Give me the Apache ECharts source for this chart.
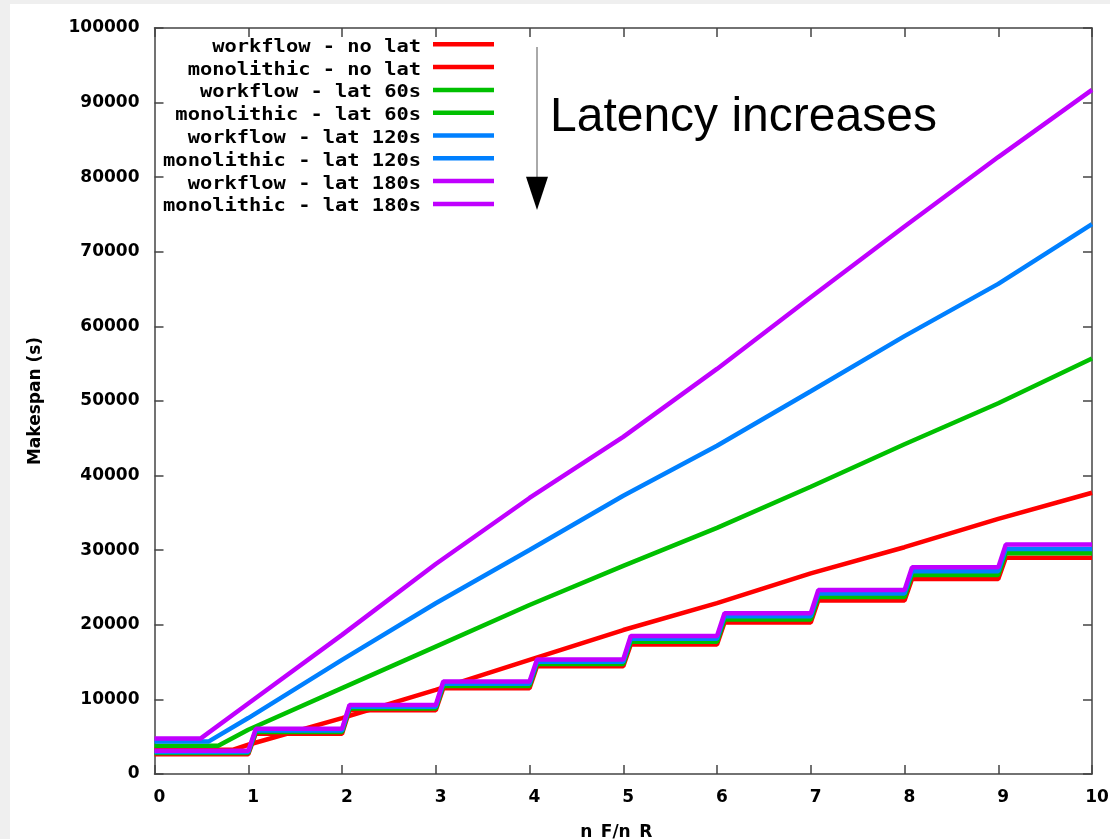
<!DOCTYPE html>
<html>
<head>
<meta charset="utf-8" />
<title>Makespan vs n_F/n_R</title>
<script src="https://cdn.jsdelivr.net/npm/echarts@6/dist/echarts.min.js"></script>
<style>
  body { margin: 0; background: #efefef; }
  #chart { position: absolute; left: 10px; top: 4px; width: 1100px; height: 835px; background: #fff; }
</style>
</head>
<body>
<div id="chart"></div>
<script type="text/javascript">
// ---- data ----
var seriesNames = [
  'workflow - no lat', 'monolithic - no lat',
  'workflow - lat 60s', 'monolithic - lat 60s',
  'workflow - lat 120s', 'monolithic - lat 120s',
  'workflow - lat 180s', 'monolithic - lat 180s'
];
var latencyColors = ['#ff0000', '#00c000', '#0080ff', '#c000ff'];

// workflow: flat start, knee where it starts rising, then values at n_F/n_R = 1..10
var nfnr = [1, 2, 3, 4, 5, 6, 7, 8, 9, 10];
var wfFlat = [3250, 3790, 4370, 4750];
var wfKnee = [0.84, 0.68, 0.58, 0.49];
var wfNoLat = [3920, 7500, 11280, 15300, 19300, 22900, 26900, 30400, 34200, 37700];
var wfLat60 = [5930, 11510, 17080, 22660, 27900, 33000, 38500, 44200, 49700, 55700];
var wfLat120 = [7500, 15300, 22890, 30030, 37300, 44000, 51300, 58700, 65700, 73700];
var wfLat180 = [9450, 18650, 28150, 37000, 45200, 54300, 63900, 73400, 82700, 91700];

// monolithic: one level per interval [k, k+1), k = 0..9
var stepStart = [0, 1, 2, 3, 4, 5, 6, 7, 8, 9];
var rampWidth = 0.08;
var moNoLat = [2650, 5400, 8550, 11500, 14450, 17350, 20300, 23250, 26150, 29000];
var moLat60 = [2800, 5620, 8780, 11800, 14750, 17730, 20720, 23720, 26670, 29580];
var moLat120 = [2950, 5830, 9020, 12100, 15050, 18120, 21130, 24180, 27180, 30170];
var moLat180 = [3100, 6050, 9250, 12400, 15350, 18500, 21550, 24650, 27700, 30750];

var wfValues = [wfNoLat, wfLat60, wfLat120, wfLat180];
var moValues = [moNoLat, moLat60, moLat120, moLat180];

// ---- build series ----
function workflowData(i) {
  var d = [[0, wfFlat[i]], [wfKnee[i], wfFlat[i]]];
  nfnr.forEach(function (x, j) { d.push([x, wfValues[i][j]]); });
  return d;
}
function monolithicData(i) {
  var d = [];
  stepStart.forEach(function (k, j) {
    var v = moValues[i][j];
    d.push([k === 0 ? 0 : k + rampWidth, v]);
    d.push([k + 1, v]);
  });
  return d;
}

var series = [];
for (var i = 0; i < 4; i++) {
  [workflowData(i), monolithicData(i)].forEach(function (data, t) {
    series.push({
      name: seriesNames[i * 2 + t],
      type: 'line',
      data: data,
      showSymbol: false,
      animation: false,
      color: latencyColors[i],
      lineStyle: { width: 4.5, color: latencyColors[i] }
    });
  });
}

// custom key: text right-aligned, sample line to its right
var legendGraphics = [];
seriesNames.forEach(function (name, i) {
  var y = 40.3 + i * 22.8;
  legendGraphics.push({
    type: 'text', x: 411, y: y + 3, scaleX: 1.2,
    style: { x: 0, y: 0, text: name, align: 'right', verticalAlign: 'middle',
             font: 'bold 17px "DejaVu Sans Mono"', fill: '#000' }
  });
  legendGraphics.push({
    type: 'line',
    shape: { x1: 423, y1: y, x2: 484, y2: y },
    style: { stroke: latencyColors[Math.floor(i / 2)], lineWidth: 4.5 }
  });
});

var axisFont = { fontFamily: 'DejaVu Sans', fontWeight: 'bold', fontSize: 17, color: '#000' };
var frameLine = { show: true, onZero: false, lineStyle: { color: '#444', width: 1.5 } };
var frameTick = { show: true, inside: true, length: 9, lineStyle: { color: '#444', width: 1.5 } };
var plain = function (v) { return String(v); };

var myChart = echarts.init(document.getElementById('chart'));
var option = {
  animation: false,
  grid: { left: 144.5, right: 18, top: 24, bottom: 65, containLabel: false, outerBoundsMode: 'none' },
  xAxis: [
    {
      type: 'value', min: 0, max: 10, interval: 1, position: 'bottom',
      name: 'n_F/n_R', nameLocation: 'middle', nameGap: 50,
      nameTextStyle: Object.assign({ padding: [0, 14, 0, 0] }, axisFont),
      axisLine: frameLine, axisTick: frameTick, splitLine: { show: false },
      axisLabel: Object.assign({ margin: 15, padding: [0, 0, 0, 10], formatter: plain }, axisFont)
    },
    {
      type: 'value', min: 0, max: 10, interval: 1, position: 'top',
      axisLine: frameLine, axisTick: frameTick, splitLine: { show: false },
      axisLabel: { show: false }
    }
  ],
  yAxis: [
    {
      type: 'value', min: 0, max: 100000, interval: 10000, position: 'left',
      name: 'Makespan (s)', nameLocation: 'middle', nameGap: 110,
      nameTextStyle: axisFont,
      axisLine: frameLine, axisTick: frameTick, splitLine: { show: false },
      axisLabel: Object.assign({ margin: 15, formatter: plain }, axisFont)
    },
    {
      type: 'value', min: 0, max: 100000, interval: 10000, position: 'right',
      axisLine: frameLine, axisTick: frameTick, splitLine: { show: false },
      axisLabel: { show: false }
    }
  ],
  series: series,
  graphic: legendGraphics.concat([
    // "Latency increases" arrow
    { type: 'line', shape: { x1: 527, y1: 43, x2: 527, y2: 176 },
      style: { stroke: '#555', lineWidth: 1 } },
    { type: 'polygon', shape: { points: [[516, 172.7], [538, 172.7], [527, 206]] },
      style: { fill: '#000' } },
    { type: 'text', x: 540, y: 114,
      style: { text: 'Latency increases', align: 'left', verticalAlign: 'middle',
               font: '48px "Liberation Sans"', fill: '#000' } }
  ])
};
myChart.setOption(option);
</script>
</body>
</html>
